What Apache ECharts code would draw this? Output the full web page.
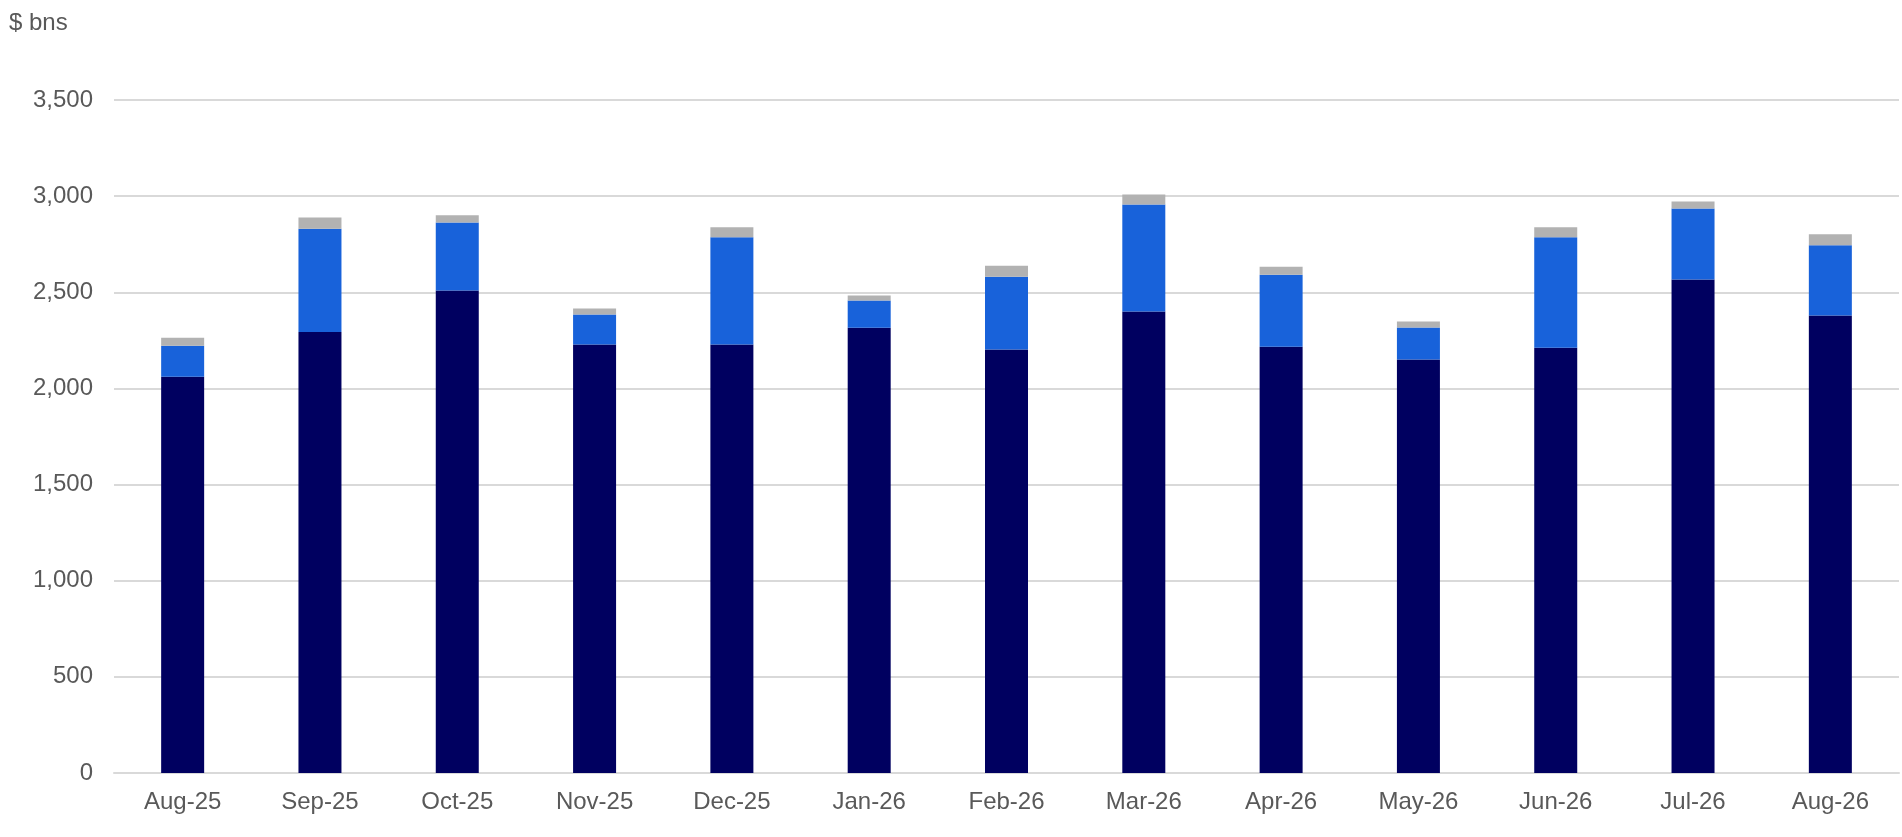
<!DOCTYPE html>
<html>
<head>
<meta charset="utf-8">
<script src="https://cdn.jsdelivr.net/npm/echarts@6/dist/echarts.min.js"></script>
<style>
  html, body { margin: 0; padding: 0; background: #fff; }
  #chart { width: 1902px; height: 837px; }
</style>
</head>
<body>
<div id="chart"></div>
<script>
// months on the x axis
var months = ['Aug-25', 'Sep-25', 'Oct-25', 'Nov-25', 'Dec-25', 'Jan-26', 'Feb-26',
              'Mar-26', 'Apr-26', 'May-26', 'Jun-26', 'Jul-26', 'Aug-26'];
// stacked pieces, $ bns
var baseData  = [2061, 2294, 2509, 2228, 2228, 2316, 2202, 2400, 2217, 2150, 2212, 2566, 2379];
var midData   = [161, 537, 354, 156, 558, 141, 379, 557, 374, 167, 574, 370, 366];
var topData   = [41, 58, 37, 32, 52, 26, 57, 52, 42, 31, 52, 36, 57];

var textColor = '#595959';
var gridColor = '#D9D9D9';

var myChart = echarts.init(document.getElementById('chart'));
var option = {
    animation: false,
    textStyle: { fontFamily: 'Liberation Sans, Arial, sans-serif' },
    title: {
        text: '$ bns',
        left: 4,
        top: 6,
        textStyle: { color: textColor, fontSize: 24, fontWeight: 'normal' }
    },
    grid: { left: 114, right: 3, top: 100, bottom: 64, containLabel: false },
    xAxis: {
        type: 'category',
        data: months,
        axisLine: { show: true, lineStyle: { color: gridColor, width: 2 } },
        axisTick: { show: false },
        axisLabel: { color: textColor, fontSize: 24, margin: 17 }
    },
    yAxis: {
        type: 'value',
        min: 0,
        max: 3500,
        interval: 500,
        axisLine: { show: false },
        axisTick: { show: false },
        splitLine: { lineStyle: { color: gridColor, width: 2 } },
        axisLabel: {
            color: textColor, fontSize: 24, margin: 21,
            formatter: function (v) { return v.toLocaleString('en-US'); }
        }
    },
    series: [
        { name: 'base', type: 'bar', stack: 'total', data: baseData, barWidth: 43,
          itemStyle: { color: '#000060' } },
        { name: 'mid', type: 'bar', stack: 'total', data: midData, barWidth: 43,
          itemStyle: { color: '#1862DA' } },
        { name: 'top', type: 'bar', stack: 'total', data: topData, barWidth: 43,
          itemStyle: { color: '#B2B2B2' } }
    ]
};
myChart.setOption(option);
</script>
</body>
</html>
